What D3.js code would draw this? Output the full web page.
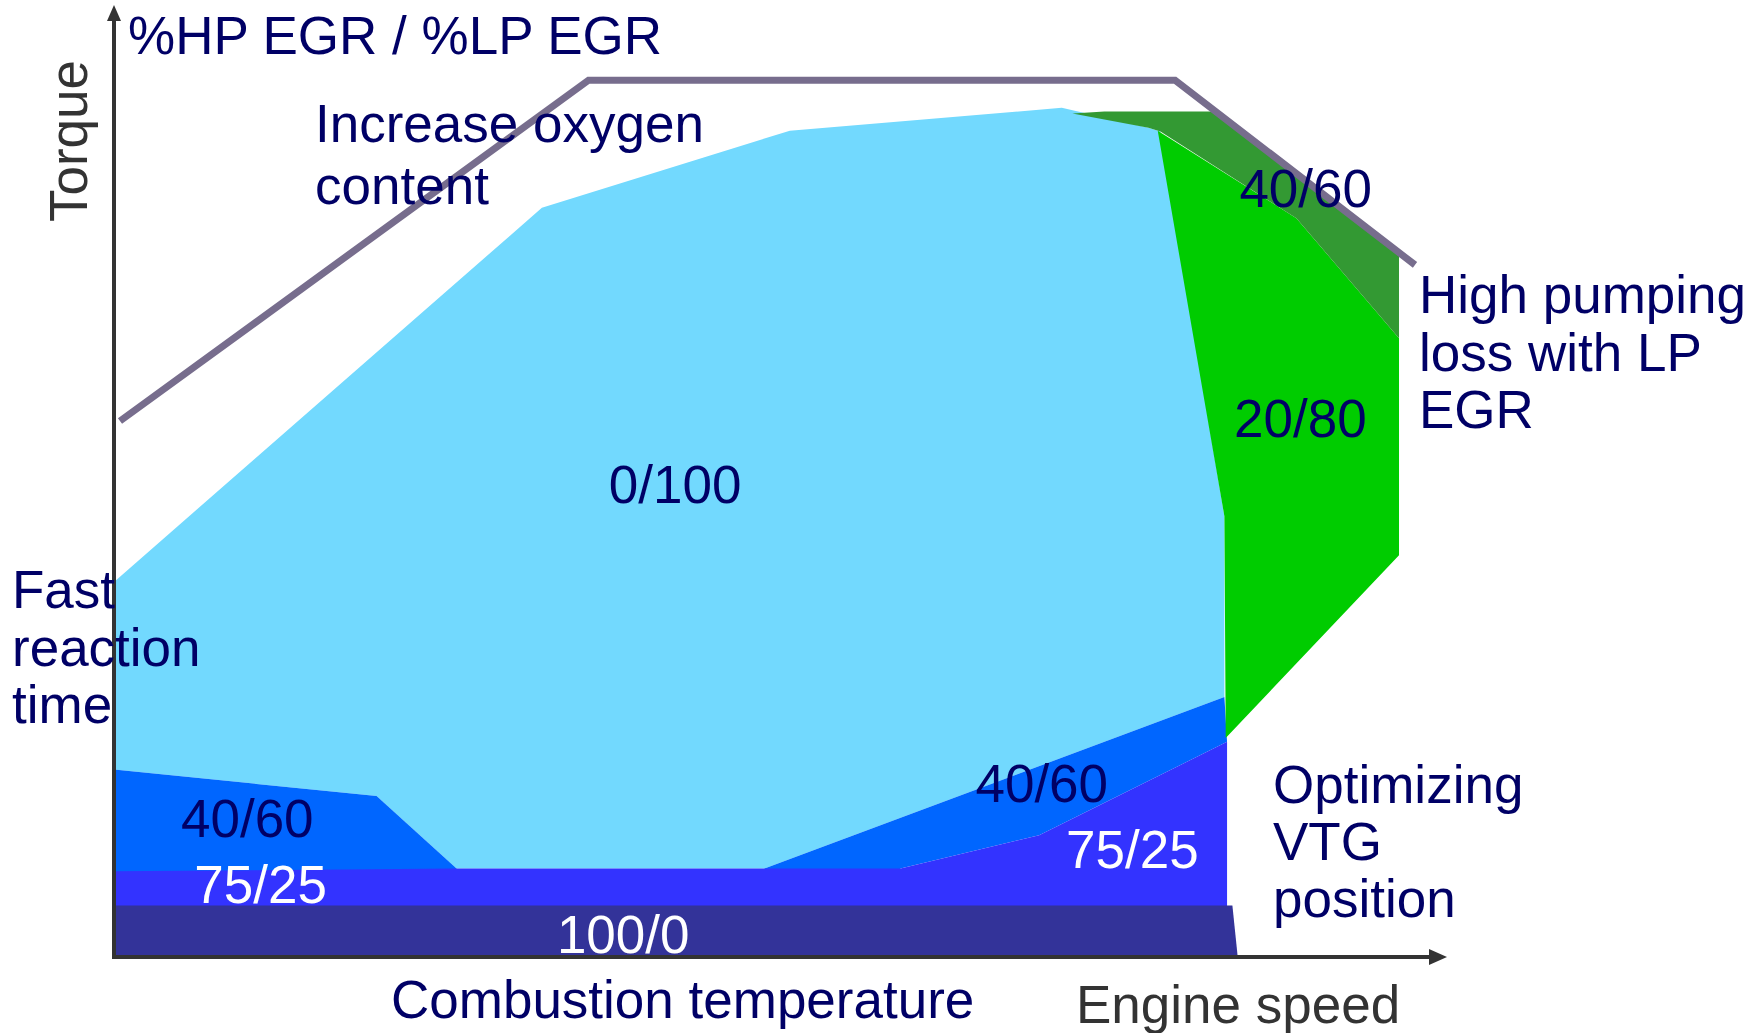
<!DOCTYPE html>
<html>
<head>
<meta charset="utf-8">
<script src="https://cdn.jsdelivr.net/npm/d3@7"></script>
<style>
  html, body { margin: 0; padding: 0; background: #ffffff; }
  svg { display: block; }
  text { font-family: "Liberation Sans", Arial, Helvetica, sans-serif; }
</style>
</head>
<body>
<svg id="chart" width="1752" height="1033"></svg>
<script>
// EGR split map over engine speed (x, % of axis) and torque (y, % of axis).
// Each zone is a polygon of [speed, torque] points; split = %HP EGR / %LP EGR.

const zoneLP = [            // 0/100
  [0, 39.4], [32.1, 78.7], [50.7, 86.8], [71.1, 89.2], [77.6, 87.1], [78.5, 86.7],
  [83.3, 46.3], [83.3, 27.3], [48.8, 9.3], [25.7, 9.3], [19.7, 16.9], [0, 19.7]
];
const zoneMixLowLeft = [    // 40/60
  [0, 19.7], [19.7, 16.9], [25.7, 9.3], [25.7, 8.6], [0, 8.6]
];
const zoneMixLowRight = [   // 40/60
  [48.8, 9.3], [83.3, 27.3], [83.5, 22.6], [69.4, 12.8], [59.0, 9.3], [59.0, 8.6], [48.8, 8.6]
];
const zoneHP75 = [          // 75/25
  [0, 9.0], [25.7, 9.3], [59.0, 9.3], [69.4, 12.8], [83.5, 22.6], [83.5, 5.0], [0, 5.0]
];
const zoneHP100 = [         // 100/0
  [0, 5.4], [83.9, 5.4], [84.3, 0], [0, 0]
];
const zoneLPHigh = [        // 20/80
  [78.3, 86.8], [88.7, 77.6], [96.4, 65.0], [96.4, 42.2], [83.4, 23.0], [83.3, 46.3]
];
const zoneMixHigh = [       // 40/60
  [71.9, 88.6], [74.3, 88.8], [82.3, 88.8], [96.4, 74.1], [96.4, 65.0],
  [88.7, 77.6], [78.5, 86.7], [77.6, 87.1]
];
const fullLoadCurve = [[0.45, 56.3], [35.6, 92.1], [79.6, 92.1], [97.6, 72.7]];

const zoneFills = ["#72d9fe", "#0066ff", "#0066ff", "#3333ff", "#333399", "#00cc00", "#339933"];
const zones = [zoneLP, zoneMixLowLeft, zoneMixLowRight, zoneHP75, zoneHP100, zoneLPHigh, zoneMixHigh];

// split labels: text, [speed, torque] anchor (baseline centre)
const splitText = ["0/100", "40/60", "20/80", "40/60", "75/25", "100/0", "40/60", "75/25"];
const splitAt = [[42.1, 47.7], [89.4, 78.8], [89.0, 54.6], [10.0, 12.6], [11.0, 5.7], [38.2, 0.4], [69.6, 16.3], [76.4, 9.3]];
const splitColor = ["#000066", "#000066", "#000066", "#000066", "#ffffff", "#ffffff", "#000066", "#ffffff"];

const svg = d3.select("#chart");
const W = 1752, H = 1033;

const x = d3.scaleLinear().domain([0, 100]).range([114, 1447]);
const y = d3.scaleLinear().domain([0, 100]).range([957, 5]);

const poly = d3.line().x(d => x(d[0])).y(d => y(d[1])).curve(d3.curveLinearClosed);

svg.append("g").selectAll("path")
  .data(zones)
  .join("path")
  .attr("d", poly)
  .attr("fill", (d, i) => zoneFills[i]);

// full-load torque curve
svg.append("path")
  .datum(fullLoadCurve)
  .attr("d", d3.line().x(d => x(d[0])).y(d => y(d[1])))
  .attr("fill", "none")
  .attr("stroke", "#776d8d")
  .attr("stroke-width", 7)
  .attr("stroke-linejoin", "miter");

// axes with arrow heads
const axisColor = "#333333";
const x0 = x(0), y0 = y(0), xEnd = x(100), yEnd = y(100);
svg.append("line")
  .attr("x1", x0).attr("y1", y0 + 2).attr("x2", x0).attr("y2", yEnd + 12)
  .attr("stroke", axisColor).attr("stroke-width", 4);
svg.append("path")
  .attr("d", `M${x0},${yEnd} L${x0 - 7},${yEnd + 16} L${x0 + 7},${yEnd + 16} Z`)
  .attr("fill", axisColor);
svg.append("line")
  .attr("x1", x0 - 2).attr("y1", y0).attr("x2", xEnd - 14).attr("y2", y0)
  .attr("stroke", axisColor).attr("stroke-width", 4);
svg.append("path")
  .attr("d", `M${xEnd},${y0} L${xEnd - 18},${y0 - 8} L${xEnd - 18},${y0 + 8} Z`)
  .attr("fill", axisColor);

// split labels
svg.append("g").selectAll("text")
  .data(splitText)
  .join("text")
  .attr("x", (d, i) => x(splitAt[i][0]))
  .attr("y", (d, i) => y(splitAt[i][1]))
  .attr("text-anchor", "middle")
  .attr("font-size", 53)
  .attr("fill", (d, i) => splitColor[i])
  .text(d => d);

// annotations
const navy = "#000066";
function block(lines, px, py, lh, color) {
  const t = svg.append("text")
    .attr("x", px).attr("y", py)
    .attr("font-size", 53)
    .attr("fill", color);
  lines.forEach((s, i) => {
    t.append("tspan").attr("x", px).attr("y", py + i * lh).text(s);
  });
}
block(["%HP EGR / %LP EGR"], 128, 54, 0, navy);
block(["Increase oxygen", "content"], 315, 142, 62, navy);
block(["High pumping", "loss with LP", "EGR"], 1419, 313, 57.5, navy);
block(["Fast", "reaction", "time"], 12, 608, 57.5, navy);
block(["Optimizing", "VTG", "position"], 1273, 803, 57, navy);
block(["Combustion temperature"], 391, 1018, 0, navy);
block(["Engine speed"], 1076, 1023, 0, axisColor);

svg.append("text")
  .attr("transform", "translate(87,141) rotate(-90)")
  .attr("text-anchor", "middle")
  .attr("font-size", 53)
  .attr("fill", axisColor)
  .text("Torque");
</script>
</body>
</html>
